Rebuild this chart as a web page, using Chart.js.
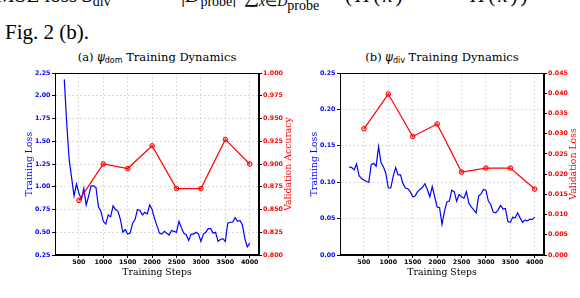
<!DOCTYPE html>
<html>
<head>
<meta charset="utf-8">
<script src="https://cdn.jsdelivr.net/npm/chart.js@4.4.1/dist/chart.umd.min.js"></script>
<style>
  body { margin: 0; width: 580px; height: 298px; overflow: hidden; background: #fff; position: relative; }
  canvas { position: absolute; top: 0; }
  .paper { position: absolute; font-family: "Liberation Serif", serif; font-size: 21px; line-height: 21px; white-space: nowrap; color: #000; }
  .paper sub { font-size: 14px; vertical-align: -4px; }
  .ttl { position: absolute; top: 50px; font-family: "DejaVu Serif", serif; font-size: 11.5px; line-height: 14px; text-align: center; white-space: nowrap; }
  .ttl i { font-family: "DejaVu Sans", sans-serif; }
  .ttl sub { font-family: "DejaVu Sans", sans-serif; font-size: 8px; vertical-align: -2px; }
</style>
</head>
<body>
<div class="paper" style="top:-15px;left:-4px">MSE loss <i>S</i><sub>div</sub></div>
<div class="paper" style="top:-15px;left:181px">|<i>D</i><sub>probe</sub>|</div>
<div class="paper" style="top:-15px;left:244px">∑<sub><i>x</i>∈<i>D</i><sub>probe</sub></sub></div>
<div class="paper" style="top:-15px;left:345px;letter-spacing:3px">(<i>H</i>(<i>x</i>)</div>
<div class="paper" style="top:-15px;left:440px">−</div>
<div class="paper" style="top:-15px;left:470px;letter-spacing:3px"><i>H</i>(<i>x</i>))</div>
<div class="paper" style="top:-15px;left:570px">·</div>
<div class="paper" style="top:22px;left:5px">Fig. 2 (b).</div>

<div class="ttl" style="left:55px;width:204px">(a) <i>ψ</i><sub>dom</sub> Training Dynamics</div>
<div class="ttl" style="left:340px;width:204px">(b) <i>ψ</i><sub>div</sub> Training Dynamics</div>

<canvas id="chartA" width="300" height="298" style="left:0"></canvas>
<canvas id="chartB" width="280" height="298" style="left:300px"></canvas>

<script>
// training loss is logged every 50 steps, validation every 500
const lossSteps = [
  200, 250, 300, 350, 400, 450, 500, 550, 600, 650,
  700, 750, 800, 850, 900, 950, 1000, 1050, 1100, 1150,
  1200, 1250, 1300, 1350, 1400, 1450, 1500, 1550, 1600, 1650,
  1700, 1750, 1800, 1850, 1900, 1950, 2000, 2050, 2100, 2150,
  2200, 2250, 2300, 2350, 2400, 2450, 2500, 2550, 2600, 2650,
  2700, 2750, 2800, 2850, 2900, 2950, 3000, 3050, 3100, 3150,
  3200, 3250, 3300, 3350, 3400, 3450, 3500, 3550, 3600, 3650,
  3700, 3750, 3800, 3850, 3900, 3950, 4000
];
const valSteps = [500, 1000, 1500, 2000, 2500, 3000, 3500, 4000];

const domLoss = [
  2.18, 1.70, 1.30, 1.10, 0.90, 1.03, 0.93, 0.86, 0.98, 0.80,
  0.90, 1.01, 1.01, 0.99, 0.78, 0.73, 0.62, 0.59, 0.69, 0.67,
  0.79, 0.75, 0.73, 0.64, 0.50, 0.53, 0.48, 0.49, 0.60, 0.64,
  0.75, 0.74, 0.69, 0.72, 0.70, 0.80, 0.75, 0.65, 0.57, 0.49,
  0.48, 0.51, 0.49, 0.47, 0.52, 0.51, 0.50, 0.62, 0.55, 0.49,
  0.47, 0.41, 0.48, 0.48, 0.50, 0.48, 0.40, 0.48, 0.50, 0.54,
  0.54, 0.49, 0.50, 0.40, 0.42, 0.43, 0.40, 0.60, 0.61, 0.61,
  0.66, 0.62, 0.63, 0.58, 0.43, 0.34, 0.38
];
const domAcc = [0.860, 0.900, 0.895, 0.920, 0.873, 0.873, 0.927, 0.900];

const divLoss = [
  0.121, 0.120, 0.117, 0.125, 0.109, 0.105, 0.103, 0.101, 0.100, 0.124,
  0.126, 0.122, 0.149, 0.127, 0.121, 0.112, 0.092, 0.092, 0.108, 0.120,
  0.110, 0.110, 0.098, 0.092, 0.091, 0.087, 0.080, 0.081, 0.087, 0.090,
  0.093, 0.098, 0.090, 0.080, 0.094, 0.080, 0.066, 0.065, 0.042, 0.060,
  0.073, 0.074, 0.089, 0.087, 0.074, 0.083, 0.080, 0.078, 0.087, 0.071,
  0.066, 0.062, 0.058, 0.081, 0.084, 0.090, 0.089, 0.074, 0.069, 0.059,
  0.058, 0.062, 0.068, 0.063, 0.064, 0.046, 0.045, 0.052, 0.051, 0.058,
  0.051, 0.045, 0.048, 0.047, 0.049, 0.049, 0.052
];
const divVal = [0.0312, 0.0398, 0.0293, 0.0324, 0.0205, 0.0215, 0.0215, 0.0163];

const stepTicks = [500, 1000, 1500, 2000, 2500, 3000, 3500, 4000];
const domLossTicks = [0.25, 0.5, 0.75, 1.0, 1.25, 1.5, 1.75, 2.0, 2.25];
const domAccTicks = [0.8, 0.825, 0.85, 0.875, 0.9, 0.925, 0.95, 0.975, 1.0];
const divLossTicks = [0, 0.05, 0.1, 0.15, 0.2, 0.25];
const divValTicks = [0, 0.005, 0.01, 0.015, 0.02, 0.025, 0.03, 0.035, 0.04, 0.045];

const tickFont = { family: "DejaVu Sans", size: 6.3, weight: "bold" };
const labelFont = { family: "DejaVu Serif", size: 9.3 };

// matplotlib-style box around the plot and a bottom-to-top right axis label
const framePlugin = {
  id: "frame",
  afterDraw(chart, args, opts) {
    const { ctx, chartArea: a } = chart;
    ctx.save();
    ctx.strokeStyle = "#000";
    ctx.lineWidth = 1;
    ctx.strokeRect(Math.round(a.left) + 0.5, Math.round(a.top) + 0.5,
      Math.round(a.right - a.left) - 1, Math.round(a.bottom - a.top) - 1);
    ctx.translate(opts.titleX, (a.top + a.bottom) / 2);
    ctx.rotate(-Math.PI / 2);
    ctx.font = labelFont.size + "px " + labelFont.family;
    ctx.fillStyle = "red";
    ctx.textAlign = "center";
    ctx.textBaseline = "middle";
    ctx.fillText(opts.title, 0, 0);
    ctx.restore();
  }
};

function fixTicks(values) {
  return (scale) => { scale.ticks = values.map((v) => ({ value: v })); };
}

function makeChart(id, cfg) {
  return new Chart(document.getElementById(id), {
    type: "line",
    data: {
      datasets: [
        {
          data: valSteps.map((s, i) => ({ x: s, y: cfg.val[i] })),
          yAxisID: "y1",
          borderColor: "red",
          borderWidth: 1.2,
          pointRadius: 2.3,
          pointBackgroundColor: "rgba(255,0,0,0.3)",
          pointBorderColor: "red",
          pointBorderWidth: 1,
          tension: 0
        },
        {
          data: lossSteps.map((s, i) => ({ x: s, y: cfg.loss[i] })),
          yAxisID: "y",
          borderColor: "blue",
          borderWidth: 1.2,
          pointRadius: 0,
          tension: 0
        }
      ]
    },
    options: {
      responsive: false,
      animation: false,
      devicePixelRatio: 1,
      layout: { padding: { top: 73, bottom: 0, left: 0, right: 0 } },
      plugins: {
        legend: { display: false },
        tooltip: { enabled: false },
        frame: { title: cfg.rightTitle, titleX: cfg.rightTitleX }
      },
      scales: {
        x: {
          type: "linear",
          min: 10,
          max: 4190,
          afterBuildTicks: fixTicks(stepTicks),
          afterFit: (s) => { s.height = 43; },
          ticks: { font: tickFont, color: "#000", padding: 1, maxRotation: 0, callback: (v) => String(v) },
          grid: { color: "#d4d4d4", lineWidth: 0.8, tickLength: 3, tickColor: "#000", tickWidth: 1 },
          border: { color: "#000", dash: [2, 2] },
          title: { display: true, text: "Training Steps", font: labelFont, color: "#000", padding: { top: 0, bottom: 20 } }
        },
        y: {
          position: "left",
          min: cfg.lossTicks[0],
          max: cfg.lossTicks[cfg.lossTicks.length - 1],
          afterBuildTicks: fixTicks(cfg.lossTicks),
          afterFit: (s) => { s.width = cfg.leftWidth; },
          ticks: { font: tickFont, color: "blue", padding: 1.5, callback: (v) => v.toFixed(2) },
          grid: { color: "#d4d4d4", lineWidth: 0.8, tickLength: 3, tickColor: "#000", tickWidth: 1 },
          border: { color: "#000", dash: [2, 2] },
          title: { display: true, text: "Training Loss", font: labelFont, color: "blue", padding: { top: cfg.leftTitlePad, bottom: 0 } }
        },
        y1: {
          position: "right",
          min: cfg.valTicks[0],
          max: cfg.valTicks[cfg.valTicks.length - 1],
          afterBuildTicks: fixTicks(cfg.valTicks),
          afterFit: (s) => { s.width = cfg.rightWidth; },
          ticks: { font: tickFont, color: "red", padding: 1, callback: (v) => v.toFixed(3) },
          grid: { drawOnChartArea: false, tickLength: 3, tickColor: "#000", tickWidth: 1 },
          border: { color: "#000" }
        }
      }
    },
    plugins: [framePlugin]
  });
}

makeChart("chartA", {
  loss: domLoss, val: domAcc,
  lossTicks: domLossTicks, valTicks: domAccTicks,
  leftWidth: 55, rightWidth: 41, leftTitlePad: 24,
  rightTitle: "Validation Accuracy", rightTitleX: 289
});

makeChart("chartB", {
  loss: divLoss, val: divVal,
  lossTicks: divLossTicks, valTicks: divValTicks,
  leftWidth: 40, rightWidth: 36, leftTitlePad: 9,
  rightTitle: "Validation Loss", rightTitleX: 274
});
</script>
</body>
</html>
